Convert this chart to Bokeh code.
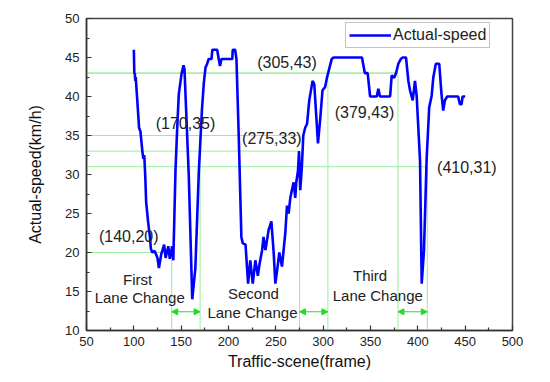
from bokeh.plotting import figure
from bokeh.models import FixedTicker, Label, Arrow, NormalHead
from bokeh.embed import file_html
from bokeh.resources import INLINE

# ---- data ----
frame = [100, 100.5, 101, 101.5, 102, 105, 105.5, 107, 109, 110, 111, 112, 113, 115,
         117, 118, 119.5, 122, 125, 126.5, 129, 132, 133.6, 136.4, 138, 140.5, 141.7,
         144, 146, 147.5, 150.4, 152.5, 153.5, 158, 161.7, 165, 168.7, 172, 174,
         175.7, 177.5, 179, 182, 183, 188, 189.7, 191, 192.6, 204, 204.5, 207,
         208.4, 210.8, 213.6, 215, 218, 220.7, 223, 225.6, 228.4, 231, 232.6, 235.5,
         237, 239, 242.4, 245.3, 247.7, 249.5, 252.3, 253.7, 256.5, 260, 261.8,
         263.5, 265.3, 267, 268.8, 270.5, 271.6, 273.4, 274.5, 275.8, 277.5, 279,
         281, 283, 285.3, 288.8, 290.6, 294.5, 297, 299.3, 302, 304, 306.7, 309,
         311, 341, 344, 347, 349.6, 356.6, 358.3, 360, 370.7, 372.4, 375, 377,
         379.4, 382, 384, 387.5, 390, 391.7, 394.6, 397, 398.8, 402.3, 404.1,
         406.5, 409.3, 412, 414.6, 416.3, 419, 422.6, 425, 426.8, 428.6, 431,
         442.6, 444.4, 446.2, 447.3, 450]
speed = [46, 43, 43, 42, 42.5, 37, 36, 35.5, 33, 32, 32.5, 30, 26.5, 24,
         22, 20.5, 20, 20.2, 19.3, 18, 19.8, 21, 19.3, 20.8, 19.2, 20.8, 19,
         30.5, 36.5, 40.3, 42.9, 44, 43.5, 30, 14, 18, 30.5, 38.4, 41.8,
         43.7, 44.2, 44.8, 44.8, 46, 46, 44.8, 43.9, 44.8, 44.8, 46, 46,
         44.8, 35, 22, 21.2, 21, 16, 19, 16, 19, 17, 18.4, 20.3,
         22, 20.3, 22.9, 24, 20, 16, 18.6, 20, 18.2, 22.5, 26,
         25, 27, 28, 29, 27, 29, 30.5, 33, 28, 31, 35,
         36, 36.5, 39.5, 42, 41.6, 34, 37.3, 40.8, 41.2, 42.4, 43.7, 44.8,
         45, 45, 43, 43, 40, 40, 41, 40, 40, 42.7, 42.4, 43,
         44.2, 44.8, 45, 45, 42, 40.8, 39.5, 42, 40, 31.8, 16,
         20.3, 32, 38.6, 40.1, 42.4, 44.2, 44.2, 40.3, 38.2, 39.5, 40,
         40, 39, 39, 40, 40]

# annotated points
mark_x = [140, 170, 275, 305, 379, 410]
mark_y = [20, 35, 33, 43, 43, 31]
hline_end = [140, 275, 275, 379, 379, 410]
coord_labels = ["(140,20)", "(170,35)", "(275,33)", "(305,43)", "(379,43)", "(410,31)"]
spans = [(140, 170), (275, 305), (379, 410)]

x_ticks = [50, 100, 150, 200, 250, 300, 350, 400, 450, 500]
y_ticks = [10, 15, 20, 25, 30, 35, 40, 45, 50]

FONT = "Liberation Sans"

p = figure(width=542, height=374, x_range=(50, 500), y_range=(10, 50),
           output_backend="svg", toolbar_location=None,
           min_border_left=86, min_border_right=30, min_border_top=18, min_border_bottom=44)
p.xgrid.visible = False
p.ygrid.visible = False
p.outline_line_color = "#444444"
p.outline_line_width = 1.5
p.background_fill_color = "white"
p.border_fill_color = "white"

# green guide lines
GL = "#99ee99"
ymin = 10
p.segment(x0=[50] * len(mark_y), y0=mark_y, x1=hline_end, y1=mark_y,
          line_color=GL, line_width=1)
p.segment(x0=mark_x, y0=mark_y, x1=mark_x, y1=[ymin] * len(mark_x),
          line_color=GL, line_width=1)

# span arrows
for a, b in spans:
    p.add_layout(Arrow(x_start=a, y_start=12.4, x_end=b, y_end=12.4,
                       line_color="#22dd22", line_width=1,
                       start=NormalHead(size=6, fill_color="#22dd22", line_color="#22dd22"),
                       end=NormalHead(size=6, fill_color="#22dd22", line_color="#22dd22")))

# main line
p.line(frame, speed, line_color="#0000ff", line_width=2.6, legend_label="Actual-speed")

# axes
for ax in (p.xaxis[0], p.yaxis[0]):
    ax.axis_line_color = "#333333"
    ax.axis_line_width = 1.5
    ax.major_tick_line_color = "#333333"
    ax.minor_tick_line_color = "#333333"
    ax.major_tick_line_width = 1.2
    ax.minor_tick_line_width = 1.2
    ax.major_tick_in = 5
    ax.major_tick_out = 0
    ax.minor_tick_in = 3
    ax.minor_tick_out = 0
    ax.major_label_text_font = FONT
    ax.major_label_text_font_size = "13px"
    ax.major_label_text_color = "#222222"
    ax.axis_label_text_font = FONT
    ax.axis_label_text_font_size = "16px"
    ax.axis_label_text_font_style = "normal"
    ax.axis_label_text_color = "#111111"

p.xaxis.ticker = FixedTicker(ticks=x_ticks, minor_ticks=[t + 25 for t in x_ticks[:-1]])
p.yaxis.ticker = FixedTicker(ticks=y_ticks, minor_ticks=[t + 2.5 for t in y_ticks[:-1]])
p.xaxis.axis_label = "Traffic-scene(frame)"
p.yaxis.axis_label = "Actual-speed(km/h)"
p.xaxis.major_label_standoff = 6
p.yaxis.major_label_standoff = 7
p.xaxis.axis_label_standoff = 4
p.yaxis.axis_label_standoff = 18

# coordinate labels
label_pos = [(94.6, 22.1), (154.6, 36.5), (245.8, 34.6), (261.8, 44.4), (343.7, 38.0), (451.8, 30.9)]
for (lx, ly), t in zip(label_pos, coord_labels):
    p.add_layout(Label(x=lx, y=ly, text=t, text_font=FONT, text_font_size="16px",
                       text_align="center", text_baseline="middle", text_color="#222222"))

# lane change texts
lane_texts = [(104, 16.5, "First"), (106.2, 14.2, "Lane Change"),
              (226.3, 14.7, "Second"), (225.3, 12.3, "Lane Change"),
              (349.6, 17.0, "Third"), (357.7, 14.5, "Lane Change")]
for lx, ly, t in lane_texts:
    p.add_layout(Label(x=lx, y=ly, text=t, text_font=FONT, text_font_size="15px",
                       text_align="center", text_baseline="middle", text_color="#222222"))

# legend
lg = p.legend[0]
lg.location = (259, 282)
lg.label_text_font = FONT
lg.label_text_font_size = "16px"
lg.label_text_color = "#222222"
lg.border_line_color = "#888888"
lg.border_line_width = 1
lg.padding = 3
lg.margin = 0
lg.spacing = 0
lg.glyph_width = 42
lg.glyph_height = 18
lg.label_height = 18
lg.label_standoff = 2
lg.background_fill_alpha = 1

open("out.html", "w").write(file_html(p, INLINE))
